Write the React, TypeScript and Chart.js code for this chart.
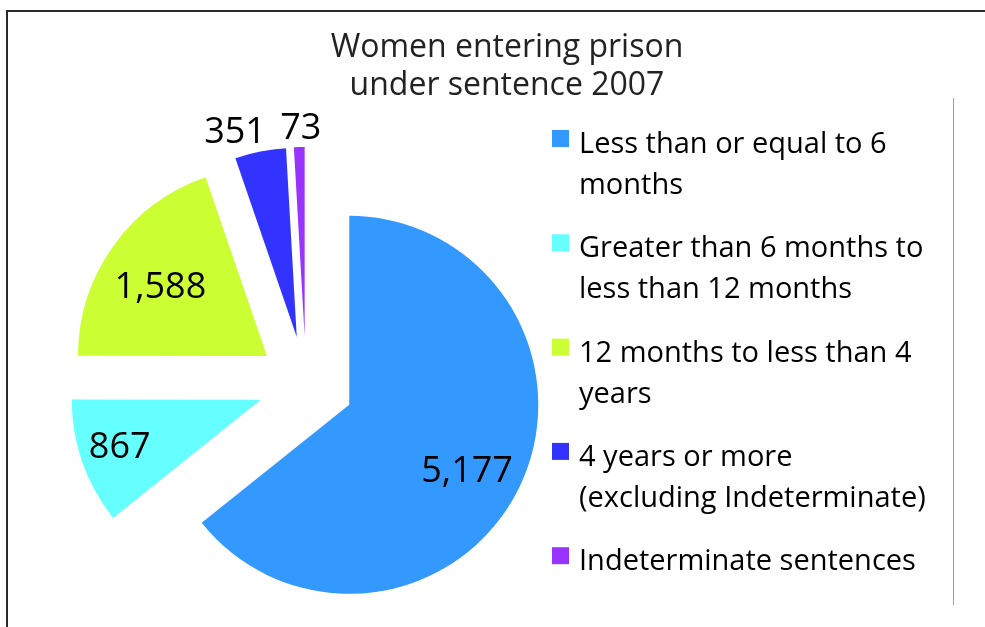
import { useEffect, useRef } from "react";
import { Chart, registerables } from "chart.js";

Chart.register(...registerables);

// ---- data ----
const categories: string[][] = [
  ["Less than or equal to 6", "months"],
  ["Greater than 6 months to", "less than 12 months"],
  ["12 months to less than 4", "years"],
  ["4 years or more", "(excluding Indeterminate)"],
  ["Indeterminate sentences"],
];
const values: number[] = [5177, 867, 1588, 351, 73];
const sliceColors: string[] = ["#3399FF", "#66FFFF", "#CCFF33", "#3333FF", "#9933FF"];
const titleLines: string[] = ["Women entering prison", "under sentence 2007"];

// ---- layout ----
const FONT = "'Open Sans', Lato, sans-serif";
const EXPLODE = 48;
const RADIUS = 189;
const LABEL_DIST = [134, 148, 128, 216, 210];
const LABEL_TURN = [2.8, 1.6, -1.9, -5.5, 0.6];
const W = 985;
const H = 666;

const framePlugin = {
  id: "frame",
  beforeDraw(chart: any) {
    const ctx = chart.ctx;
    ctx.save();
    ctx.fillStyle = "#fff";
    ctx.fillRect(0, 0, chart.width, chart.height);
    ctx.fillStyle = "#2a2a2a";
    ctx.fillRect(6, 10, chart.width, 2);
    ctx.fillRect(6, 10, 2, chart.height);
    ctx.fillStyle = "#a0a0a0";
    ctx.fillRect(953, 98, 1, 507);
    ctx.restore();
  },
};

const titlePlugin = {
  id: "centerTitle",
  afterDraw(chart: any) {
    const ctx = chart.ctx;
    ctx.save();
    ctx.font = `32px ${FONT}`;
    ctx.fillStyle = "#222";
    ctx.textAlign = "center";
    ctx.textBaseline = "alphabetic";
    titleLines.forEach((line, i) => {
      ctx.fillText(line, 507, 57 + i * 38);
    });
    ctx.restore();
  },
};

const explodePlugin = {
  id: "explode",
  beforeDatasetDraw(chart: any, args: any) {
    const ctx = chart.ctx;
    args.meta.data.forEach((arc: any) => {
      const p = arc.getProps(["startAngle", "endAngle"], true);
      const mid = (p.startAngle + p.endAngle) / 2;
      ctx.save();
      ctx.translate(Math.cos(mid) * EXPLODE, Math.sin(mid) * EXPLODE);
      arc.draw(ctx, chart.chartArea);
      ctx.restore();
    });
    return false;
  },
};

const valueLabelPlugin = {
  id: "valueLabels",
  afterDatasetsDraw(chart: any) {
    const ctx = chart.ctx;
    const meta = chart.getDatasetMeta(0);
    ctx.save();
    ctx.font = `36px ${FONT}`;
    ctx.fillStyle = "#000";
    ctx.textAlign = "center";
    ctx.textBaseline = "alphabetic";
    meta.data.forEach((arc: any, i: number) => {
      const p = arc.getProps(["startAngle", "endAngle", "x", "y"], true);
      const mid = (p.startAngle + p.endAngle) / 2;
      const ax = p.x + Math.cos(mid) * EXPLODE;
      const ay = p.y + Math.sin(mid) * EXPLODE;
      const a = mid + (LABEL_TURN[i] * Math.PI) / 180;
      const lx = ax + Math.cos(a) * LABEL_DIST[i];
      const ly = ay + Math.sin(a) * LABEL_DIST[i];
      const v = chart.data.datasets[0].data[i] as number;
      ctx.fillText(v.toLocaleString("en-US"), lx, ly + 13);
    });
    ctx.restore();
  },
};

const legendPlugin = {
  id: "sideLegend",
  afterDraw(chart: any) {
    const ctx = chart.ctx;
    const labels = chart.data.labels as string[][];
    const colors = chart.data.datasets[0].backgroundColor as string[];
    ctx.save();
    ctx.font = `29px ${FONT}`;
    ctx.textAlign = "left";
    ctx.textBaseline = "alphabetic";
    labels.forEach((lines, i) => {
      const base = 153 + i * 104.3;
      ctx.fillStyle = colors[i];
      ctx.fillRect(552, base - 23, 17, 17);
      ctx.fillStyle = "#000";
      lines.forEach((line, j) => {
        ctx.fillText(line, 579, base + j * 41);
      });
    });
    ctx.restore();
  },
};

export default function App() {
  const ref = useRef<HTMLCanvasElement | null>(null);
  useEffect(() => {
    if (!ref.current) return;
    const chart = new Chart(ref.current, {
      type: "pie",
      data: {
        labels: categories,
        datasets: [
          {
            data: values,
            backgroundColor: sliceColors,
            borderWidth: 0,
          },
        ],
      },
      options: {
        responsive: false,
        animation: false,
        radius: RADIUS,
        layout: { padding: { left: 0, right: W - 612, top: 102, bottom: 0 } },
        plugins: {
          legend: { display: false },
          tooltip: { enabled: false },
          title: { display: false },
        },
      } as any,
      plugins: [framePlugin, explodePlugin, valueLabelPlugin, legendPlugin, titlePlugin],
    });
    return () => chart.destroy();
  }, []);
  return (
    <div style={{ position: "fixed", left: 0, top: 0, width: W, height: 627, overflow: "hidden", background: "#fff" }}>
      <canvas ref={ref} width={W} height={H} style={{ display: "block" }} />
    </div>
  );
}
